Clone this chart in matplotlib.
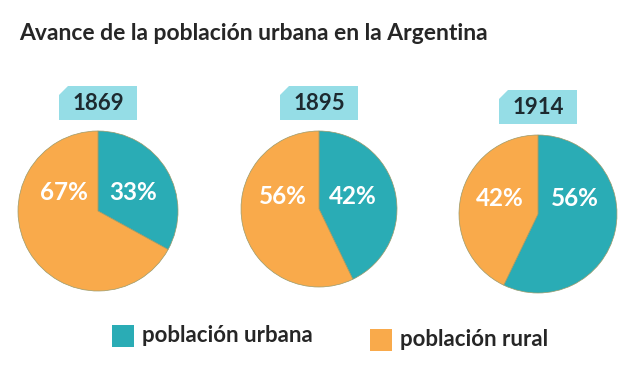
import matplotlib.pyplot as plt
from matplotlib.patches import Polygon, Rectangle

# data
years = ['1869', '1895', '1914']
urbana = [33, 42, 56]
rural = [67, 56, 42]
series = ['población urbana', 'población rural']

teal = '#2aacb5'
orange = '#f9aa4b'
box_color = '#95dde6'
text_dark = '#262626'

plt.rcParams['font.family'] = ['Lato', 'DejaVu Sans']

W, H = 640, 375
fig = plt.figure(figsize=(6.4, 3.75), dpi=100)
ax = fig.add_axes([0, 0, 1, 1])
ax.set_xlim(0, W)
ax.set_ylim(0, H)
ax.set_aspect('equal')
ax.axis('off')

# layout (pixel positions, y measured from top)
centers = [(98, 211), (319, 209), (538, 214)]
radii = [80, 78, 79]
label_dx = [(-34, 35), (-36, 34), (-38, 37)]
label_dy = [-18, -13, -16]
box_w, box_h, cut = 78, 34, 9

ax.text(19, H - 33, 'Avance de la población urbana en la Argentina',
        fontsize=16.5, fontweight='bold', color=text_dark, va='center', ha='left')

for i, year in enumerate(years):
    cx, cy = centers[i]
    cy = H - cy
    ax.pie([urbana[i], rural[i]], colors=[teal, orange], startangle=90,
           counterclock=False, center=(cx, cy), radius=radii[i],
           wedgeprops=dict(linewidth=0.5, edgecolor='#9a9a6a'))
    # percentage labels
    ax.text(cx + label_dx[i][0], cy - label_dy[i], f'{rural[i]}%', color='white',
            fontsize=17.5, fontweight='bold', ha='center', va='center')
    ax.text(cx + label_dx[i][1], cy - label_dy[i], f'{urbana[i]}%', color='white',
            fontsize=17.5, fontweight='bold', ha='center', va='center')
    # year tag with folded corner
    by = cy + radii[i] + 28
    x0, x1 = cx - box_w / 2, cx + box_w / 2
    y0, y1 = by - box_h / 2, by + box_h / 2
    tag = Polygon([(x0, y0), (x1, y0), (x1, y1), (x0 + cut, y1), (x0, y1 - cut)],
                  closed=True, facecolor=box_color, edgecolor='none')
    ax.add_patch(tag)
    ax.text(cx, by, year, fontsize=16, fontweight='bold', color='#1d2a30',
            ha='center', va='center')

ax.set_xlim(0, W)
ax.set_ylim(0, H)

# legend
legend_items = [(112, 325, teal, series[0]), (370, 329, orange, series[1])]
for lx, ly, col, label in legend_items:
    ax.add_patch(Rectangle((lx, H - ly - 22), 22, 22, facecolor=col, edgecolor='none'))
    ax.text(lx + 30, H - ly - 10, label, fontsize=16, fontweight='bold',
            color=text_dark, ha='left', va='center')

fig.savefig('out.png', dpi=100, facecolor='white')
